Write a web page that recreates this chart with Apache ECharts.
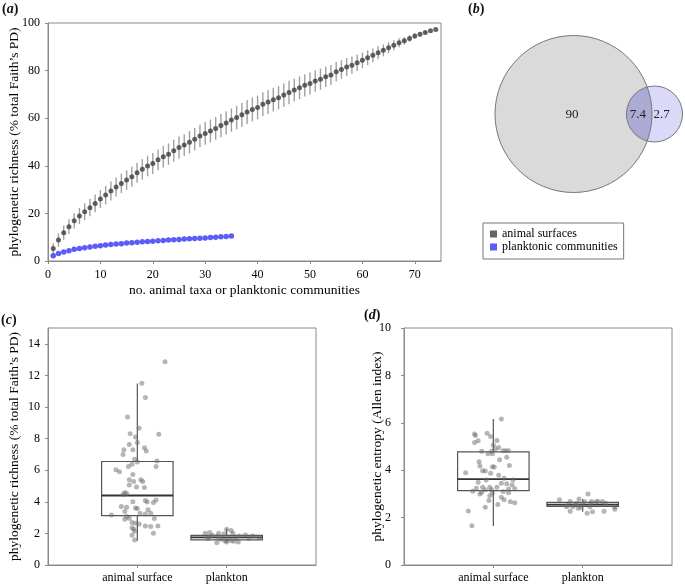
<!DOCTYPE html>
<html><head><meta charset="utf-8">
<script src="https://cdn.jsdelivr.net/npm/echarts@6/dist/echarts.min.js"></script>
<style>html,body{margin:0;padding:0;background:#fff}#c{width:685px;height:584px}</style>
</head><body><div id="c"></div>
<script>
// ---------- DATA ----------
const animalRichness = [5.3,8.8,11.9,14.4,16.9,18.9,20.7,22.4,24.2,26.0,27.7,29.4,31.1,32.6,34.0,35.4,37.1,38.5,39.9,41.0,
  42.5,43.8,44.9,46.3,47.7,48.7,49.9,51.2,52.5,53.6,54.6,55.7,56.9,58.0,59.2,60.3,61.4,62.6,63.7,64.5,
  65.9,66.8,67.8,68.6,69.7,70.8,71.8,72.8,73.8,74.6,75.6,76.4,77.4,78.2,79.5,80.5,81.5,82.3,83.3,84.3,
  85.4,86.4,87.5,88.5,89.6,90.6,91.7,92.5,93.5,94.5,95.3,96.0,96.7,97.3];
const animalSd = [2.2,2.8,3.0,3.1,3.2,3.4,3.5,3.6,3.7,3.8,3.9,4.0,4.0,4.1,4.1,4.2,4.2,4.3,4.3,4.4,
  4.4,4.5,4.5,4.6,4.6,4.6,4.7,4.7,4.7,4.8,4.8,4.8,4.9,4.9,4.9,4.9,5.0,5.0,5.0,5.0,
  5.0,5.0,5.0,4.9,4.9,4.9,4.8,4.8,4.7,4.6,4.5,4.4,4.3,4.2,4.1,3.9,3.8,3.6,3.5,3.3,
  3.1,2.9,2.7,2.5,2.3,2.1,1.9,1.6,1.4,1.1,0.9,0.6,0.3,0];
const planktonRichness = [2.2,3.2,3.8,4.3,4.9,5.2,5.6,5.9,6.2,6.4,6.7,6.9,7.1,7.3,7.6,7.7,7.9,8.1,8.2,8.3,
  8.5,8.6,8.8,8.9,9.0,9.2,9.3,9.5,9.6,9.7,9.9,10.0,10.2,10.3,10.5];
const seriesNames = ['animal surfaces', 'planktonic communities'];
const vennValues = [90, 7.4, 2.7];
const boxCategories = ['animal surface', 'plankton'];
// box stats: [min, q1, median, q3, max]
const richnessBoxStats = [[1.54,3.13,4.4,6.55,11.48],[1.41,1.59,1.75,1.88,2.3]];
const entropyBoxStats = [[1.65,3.14,3.62,4.77,6.16],[2.25,2.47,2.55,2.64,2.78]];
const richnessAnimalPts = [[1.31,12.86],[1.05,11.5],[1.09,10.6],[0.89,9.37],[1.02,8.65],[0.92,8.31],[1.24,8.27],[0.98,8.10],[1.0,7.76],[0.91,7.63],[1.08,7.42],[0.85,7.30],[0.95,7.30],[1.10,7.21],[0.84,7.0],[0.97,6.7],[1.22,6.58],[1.0,6.52],[0.94,6.37],[0.90,6.24],[1.21,6.24],[0.76,6.03],[0.80,5.90],[0.95,5.73],[0.91,5.39],[1.04,5.39],[1.06,5.29],[0.96,5.29],[0.91,5.06],[0.99,4.93],[1.08,4.91],[0.86,4.59],[0.84,4.46],[0.88,4.52],[1.21,4.12],[1.09,4.08],[1.18,3.95],[0.95,4.0],[1.11,3.98],[0.82,3.70],[0.88,3.66],[0.98,3.6],[1.0,3.58],[1.12,3.49],[0.86,3.38],[1.03,3.28],[1.15,3.28],[1.09,3.22],[0.71,3.17],[0.88,3.07],[0.91,2.96],[0.86,2.90],[1.19,2.94],[0.94,2.69],[0.98,2.65],[1.02,2.60],[1.09,2.47],[1.15,2.43],[1.23,2.47],[0.94,2.35],[0.96,2.27],[0.97,2.14],[1.18,2.01],[0.94,1.88],[0.97,1.59]];
const richnessPlanktonPts = [[2.0,2.26],[2.05,2.18],[1.76,2.01],[1.81,2.05],[1.91,2.01],[1.97,1.97],[2.07,2.01],[1.84,1.88],[1.89,1.80],[2.14,1.84],[2.21,1.90],[2.29,1.84],[2.36,1.73],[1.80,1.76],[1.95,1.76],[2.02,1.67],[2.10,1.71],[2.25,1.67],[1.79,1.67],[1.98,1.54],[2.05,1.54],[2.08,1.50],[1.89,1.41],[2.0,1.46],[2.13,1.46],[1.93,1.63]];
const entropyAnimalPts = [[1.09,6.16],[0.79,5.53],[0.80,5.46],[0.93,5.56],[0.97,5.42],[0.83,5.24],[0.79,5.17],[1.04,5.25],[1.0,5.06],[1.06,4.96],[1.02,4.89],[0.87,4.80],[0.98,4.80],[1.11,4.82],[1.14,4.82],[1.17,4.82],[0.94,4.69],[0.99,4.69],[1.15,4.55],[1.07,4.44],[0.84,4.36],[0.85,4.18],[0.99,4.15],[1.01,4.13],[1.18,4.20],[0.88,3.98],[0.91,3.97],[0.97,3.87],[0.69,3.89],[1.06,3.79],[1.12,3.66],[0.92,3.59],[1.22,3.59],[0.83,3.49],[1.09,3.45],[1.15,3.43],[1.21,3.38],[0.88,3.28],[0.96,3.28],[1.04,3.28],[0.81,3.24],[1.24,3.22],[1.17,3.21],[0.91,3.17],[0.98,3.17],[0.77,3.11],[0.87,3.07],[1.11,3.10],[0.85,3.0],[0.99,3.03],[1.17,3.05],[0.96,2.92],[1.09,2.86],[0.95,2.72],[1.12,2.75],[1.19,2.67],[1.24,2.63],[1.05,2.55],[0.91,2.44],[0.72,2.28],[0.76,1.66]];
const entropyPlanktonPts = [[1.74,2.75],[1.86,2.68],[1.86,2.27],[1.92,2.58],[1.96,2.78],[1.98,2.44],[2.0,2.58],[2.06,3.0],[2.05,2.18],[2.11,2.25],[2.09,2.61],[2.15,2.66],[2.17,2.69],[2.22,2.68],[2.24,2.27],[1.82,2.46],[1.89,2.46],[1.95,2.39],[2.08,2.46],[2.36,2.46],[2.36,2.35],[2.02,2.68],[2.10,2.68],[2.26,2.61],[1.83,2.52],[1.94,2.61]];

// ---------- STYLE ----------
const SERIF = "'Liberation Serif','DejaVu Serif',serif";
const AX = '#8a8a8a';
const vennLayout = {cx1: 573.5, cy: 114, r1: 78.5, cx2: 654.5, r2: 28};

function panelTitle(letter, left, top) {
  return {text: '{p|(}{i|' + letter + '}{p|)}', left, top, padding: 0,
    textStyle: {rich: {p: {fontFamily: SERIF, fontSize: 14, color: '#111'},
                       i: {fontFamily: SERIF, fontSize: 14, fontStyle: 'italic', color: '#111'}}}};
}
function valueAxis(grid, min, max, interval, extra) {
  return Object.assign({
    type: 'value', gridIndex: grid, min, max, interval,
    axisLine: {show: true, lineStyle: {color: AX, width: 1}},
    axisTick: {show: true, length: 3, lineStyle: {color: AX}},
    axisLabel: {fontFamily: SERIF, fontSize: 12, color: '#000', showMaxLabel: false},
    splitLine: {show: false},
    nameLocation: 'middle',
    nameMoveOverlap: false,
    nameTextStyle: {fontFamily: SERIF, fontSize: 13.5, color: '#000'}
  }, extra || {});
}
function catAxis(grid) {
  return valueAxis(grid, 0, 3, 1, {
    axisTick: {show: true, length: 3, lineStyle: {color: AX}, customValues: [1, 2]},
    axisLabel: {fontFamily: SERIF, fontSize: 12, color: '#000', margin: 7, customValues: [1, 2],
      formatter: v => boxCategories[Math.round(v) - 1] || ''}
  });
}
function boxRender(params, api) {
  const x = api.value(0);
  const y = v => api.coord([x, v])[1];
  const cx = api.coord([x, api.value(3)])[0];
  const w = api.size([0.8, 0])[0];
  const l = cx - w / 2;
  const st = {stroke: '#555', lineWidth: 1.2, fill: 'none'};
  return {type: 'group', children: [
    {type: 'line', shape: {x1: cx, y1: y(api.value(5)), x2: cx, y2: y(api.value(4))}, style: st},
    {type: 'line', shape: {x1: cx, y1: y(api.value(2)), x2: cx, y2: y(api.value(1))}, style: st},
    {type: 'rect', shape: {x: l, y: y(api.value(4)), width: w, height: y(api.value(2)) - y(api.value(4))}, style: st},
    {type: 'line', shape: {x1: l, y1: y(api.value(3)), x2: l + w, y2: y(api.value(3))}, style: {stroke: '#333', lineWidth: 1.8}}
  ]};
}
function vennRender(params, api) {
  const L = vennLayout;
  const d = L.cx2 - L.cx1;
  const a = (d * d + L.r1 * L.r1 - L.r2 * L.r2) / (2 * d);
  const h = Math.sqrt(L.r1 * L.r1 - a * a);
  const t1 = Math.atan2(h, a), t2 = Math.atan2(h, a - d);
  const pts = [];
  for (let i = 0; i <= 40; i++) { const t = t2 + (2 * Math.PI - 2 * t2) * i / 40; pts.push([L.cx2 + L.r2 * Math.cos(t), L.cy + L.r2 * Math.sin(t)]); }
  for (let i = 0; i <= 40; i++) { const t = -t1 + 2 * t1 * i / 40; pts.push([L.cx1 + L.r1 * Math.cos(t), L.cy + L.r1 * Math.sin(t)]); }
  const txt = (s, x) => ({type: 'text', style: {text: s, x, y: L.cy + 1, align: 'center', verticalAlign: 'middle', fontFamily: SERIF, fontSize: 13, fill: '#222'}});
  return {type: 'group', children: [
    {type: 'circle', shape: {cx: L.cx1, cy: L.cy, r: L.r1}, style: {fill: '#dadada', stroke: 'none'}},
    {type: 'circle', shape: {cx: L.cx2, cy: L.cy, r: L.r2}, style: {fill: '#dadaf8', stroke: 'none'}},
    {type: 'polygon', shape: {points: pts}, style: {fill: '#ababd6', stroke: 'none'}},
    {type: 'circle', shape: {cx: L.cx1, cy: L.cy, r: L.r1}, style: {fill: 'none', stroke: '#777', lineWidth: 1}},
    {type: 'circle', shape: {cx: L.cx2, cy: L.cy, r: L.r2}, style: {fill: 'none', stroke: '#777', lineWidth: 1}},
    txt(String(api.value(0)), L.cx1 - 1.5),
    txt(String(api.value(1)), (L.cx2 - L.r2 + L.cx1 + L.r1) / 2 - 1.5),
    txt(String(api.value(2)), L.cx2 + 7)
  ]};
}
const ptStyle = {color: 'rgba(105,105,105,0.62)'};
const gridBase = {outerBoundsMode: 'none', containLabel: false};

const option = {
  animation: false,
  backgroundColor: '#fff',
  title: [panelTitle('a', 2, 2), panelTitle('b', 468, 2), panelTitle('c', 1, 313), panelTitle('d', 364, 308)],
  legend: {
    data: seriesNames, left: 483, top: 223, orient: 'vertical', icon: 'rect',
    itemWidth: 7, itemHeight: 7, itemGap: 1, padding: [5, 6, 6, 7],
    borderColor: '#777', borderWidth: 1,
    textStyle: {fontFamily: SERIF, fontSize: 12, color: '#000', lineHeight: 12}
  },
  grid: [
    Object.assign({left: 48, top: 23, width: 393, height: 238, show: true, borderColor: AX, borderWidth: 1}, gridBase),
    Object.assign({left: 480, top: 30, width: 200, height: 170}, gridBase),
    Object.assign({left: 48, top: 328, width: 268, height: 237, show: true, borderColor: AX, borderWidth: 1}, gridBase),
    Object.assign({left: 404, top: 328, width: 268, height: 237, show: true, borderColor: AX, borderWidth: 1}, gridBase)
  ],
  xAxis: [
    valueAxis(0, 0, 75, 10, {name: 'no. animal taxa or planktonic communities', nameGap: 22}),
    {type: 'value', gridIndex: 1, show: false, min: 0, max: 1},
    catAxis(2),
    catAxis(3)
  ],
  yAxis: [
    valueAxis(0, 0, 100, 20, {name: 'phylogenetic richness (% total Faith\u2019s PD)', nameGap: 27,
      axisLabel: {fontFamily: SERIF, fontSize: 12, color: '#000', showMaxLabel: true}}),
    {type: 'value', gridIndex: 1, show: false, min: 0, max: 1},
    valueAxis(2, 0, 15, 2, {name: 'phylogenetic richness (% total Faith\u2019s PD)', nameGap: 27}),
    valueAxis(3, 0, 10, 2, {name: 'phylogenetic entropy (Allen index)', nameGap: 20,
      axisLabel: {fontFamily: SERIF, fontSize: 12, color: '#000', margin: 13, showMaxLabel: true}})
  ],
  series: [
    {type: 'custom', xAxisIndex: 0, yAxisIndex: 0, z: 1,
      data: animalRichness.map((v, i) => [i + 1, v - animalSd[i], v + animalSd[i]]),
      encode: {x: 0, y: [1, 2]},
      renderItem: (params, api) => {
        const p1 = api.coord([api.value(0), api.value(1)]), p2 = api.coord([api.value(0), api.value(2)]);
        return {type: 'line', shape: {x1: p1[0], y1: p1[1], x2: p2[0], y2: p2[1]}, style: {stroke: '#a0a0a0', lineWidth: 1.4}};
      }},
    {name: seriesNames[0], type: 'scatter', xAxisIndex: 0, yAxisIndex: 0, z: 3, symbolSize: 5,
      itemStyle: {color: '#3d3d3d'}, data: animalRichness.map((v, i) => [i + 1, v])},
    {name: seriesNames[1], type: 'scatter', xAxisIndex: 0, yAxisIndex: 0, z: 3, symbolSize: 5.5,
      itemStyle: {color: '#3333f5'}, data: planktonRichness.map((v, i) => [i + 1, v])},
    {type: 'custom', coordinateSystem: 'none', data: [vennValues], renderItem: vennRender},
    {type: 'custom', xAxisIndex: 2, yAxisIndex: 2, z: 2, renderItem: boxRender, encode: {x: 0, y: [1, 2, 3, 4, 5]},
      data: richnessBoxStats.map((s, i) => [i + 1].concat(s))},
    {type: 'custom', xAxisIndex: 3, yAxisIndex: 3, z: 2, renderItem: boxRender, encode: {x: 0, y: [1, 2, 3, 4, 5]},
      data: entropyBoxStats.map((s, i) => [i + 1].concat(s))},
    {type: 'scatter', xAxisIndex: 2, yAxisIndex: 2, z: 3, symbolSize: 5, itemStyle: ptStyle, data: richnessAnimalPts},
    {type: 'scatter', xAxisIndex: 2, yAxisIndex: 2, z: 3, symbolSize: 5, itemStyle: ptStyle, data: richnessPlanktonPts},
    {type: 'scatter', xAxisIndex: 3, yAxisIndex: 3, z: 3, symbolSize: 5, itemStyle: ptStyle, data: entropyAnimalPts},
    {type: 'scatter', xAxisIndex: 3, yAxisIndex: 3, z: 3, symbolSize: 5, itemStyle: ptStyle, data: entropyPlanktonPts}
  ]
};
const chart = echarts.init(document.getElementById('c'), null, {renderer: 'canvas'});
chart.setOption(option);
</script>
</body></html>
